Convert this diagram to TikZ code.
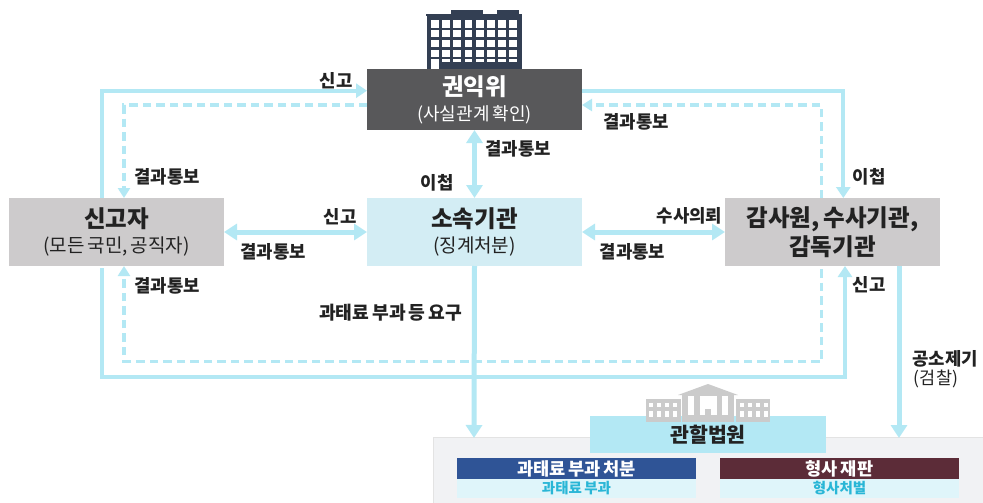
\documentclass[tikz,border=0pt]{standalone}
\usepackage{fontspec}
\setmainfont{Noto Sans CJK KR}[WordSpace=0.7]
\usetikzlibrary{arrows.meta}
\definecolor{flow}{HTML}{B3E8F4}
\definecolor{dark}{HTML}{58585A}
\definecolor{greybox}{HTML}{CDCBCC}
\definecolor{pale}{HTML}{D3EDF4}
\definecolor{bld}{HTML}{333F53}
\definecolor{ink}{HTML}{222222}
\definecolor{court}{HTML}{CBCBCB}
\definecolor{panelfill}{HTML}{F1F2F4}
\definecolor{panelline}{HTML}{E3E3E3}
\definecolor{navy}{HTML}{2F5496}
\definecolor{wine}{HTML}{5C2C38}
\definecolor{rowfill}{HTML}{DFF5FA}
\definecolor{rowtext}{HTML}{29B6D6}
\newcommand{\ttlfont}{\fontsize{23.5}{26}\selectfont\bfseries}
\newcommand{\subfont}{\fontsize{18}{20}\selectfont}
\newcommand{\subbig}{\fontsize{19}{20}\selectfont}
\tikzset{
  every node/.style={inner sep=0pt,outer sep=0pt},
  box/.style={anchor=north west,minimum height=68pt,minimum width=215pt,align=center,font=\fontsize{18}{25}\selectfont},
  solidflow/.style={draw=flow,line width=4pt,-{Triangle[length=11pt,width=14pt]}},
  thickflow/.style={draw=flow,line width=5pt,-{Triangle[length=13pt,width=16pt]}},
  bothflow/.style={draw=flow,line width=5pt,{Triangle[length=13pt,width=16pt]}-{Triangle[length=13pt,width=16pt]}},
  dashflow/.style={draw=flow,line width=3.2pt,dash pattern=on 8.5pt off 5pt,-{Triangle[length=10pt,width=12pt]}},
  lab/.style={font=\fontsize{17.8}{20}\selectfont\bfseries,text=ink},
  sublab/.style={font=\fontsize{17.5}{20}\selectfont,text=ink},
  headrow/.style={anchor=north west,minimum width=239pt,minimum height=21pt,text=white,font=\fontsize{17.6}{20}\selectfont\bfseries},
  subrow/.style={anchor=north west,minimum width=239pt,minimum height=18.5pt,fill=rowfill,text=rowtext,font=\fontsize{14.5}{17}\selectfont\bfseries},
}
\begin{document}
\begin{tikzpicture}[x=1pt,y=-1pt]
\useasboundingbox[fill=white] (0,0) rectangle (983,503);
% building
\fill[bld] (426,14) rectangle (522,16.5);
\fill[bld] (451,10) rectangle (483,14);
\fill[bld] (497,10) rectangle (519,14);
\fill[bld] (427,16) rectangle (522,71);
\foreach \c in {0,...,7}{
  \foreach \r in {0,...,3}{
    \fill[white] ({431+11.2*\c},{20.3+9.8*\r}) rectangle ++(7.7,7.3);
  }
  \fill[white] ({431+11.2*\c},59.3) rectangle ++(7.7,2.7);
}
\fill[white] (431,59) rectangle (439,71);
% panel
\fill[fill=panelfill,draw=panelline,line width=1pt] (433.5,437.5) rectangle (990,510);
% court
\node[anchor=north west,minimum width=236pt,minimum height=37pt,fill=flow,font=\fontsize{20.5}{24}\selectfont\bfseries,text=ink] (court) at (590,416) {관할법원};
\fill[court] (646,399) rectangle (681,422);
\fill[court] (736,399) rectangle (770,422);
\fill[court] (678,395) -- (708,384) -- (738,395) -- cycle;
\fill[court] (682,395) rectangle (734,422);
\foreach \c in {0,1,2,3}{\foreach \r in {0,1}{
  \fill[white] ({649+8*\c},{403+7.5*\r}) rectangle ++(4.3,{4+2*\r});
  \fill[white] ({739.5+8*\c},{403+7.5*\r}) rectangle ++(4.3,{4+2*\r});}}
\fill[white] (688,396) rectangle (694,415);
\fill[white] (722,396) rectangle (728,415);
\fill[white] (700,396) rectangle (717,415);
\fill[court] (705,409) rectangle (711,415);
% boxes
\node[box,fill=dark,minimum height=61pt,text=white] (kw) at (367,69) {{\ttlfont 권익위}\\{\subfont (사실관계 확인)}};
\node[box,fill=greybox,text=ink] (sin) at (9,198) {{\ttlfont 신고자}\\{\subbig (모든 국민, 공직자)}};
\node[box,fill=pale,text=ink] (so) at (367,198) {{\ttlfont 소속기관}\\{\subbig (징계처분)}};
\node[box,fill=greybox,text=ink,font=\fontsize{23.5}{29}\selectfont\bfseries] (gam) at (725,198) {감사원, 수사기관,\\감독기관};
% results
\node[headrow,fill=navy] (fine) at (457,458) {과태료 부과 처분};
\node[subrow] (fineb) at (457,479.2) {과태료 부과};
\node[headrow,fill=wine] (trial) at (720,458) {형사 재판};
\node[subrow] (trialb) at (720,479.2) {형사처벌};
% named ends
\coordinate (panelA) at (474,438);
\coordinate (panelB) at (899,438);
\coordinate (lowS) at (474,376.5);
\coordinate (lowD) at (474,361.5);
% connectors
\draw[solidflow] ([xshift=-14.8pt]sin.north) |- ([yshift=8.8pt]kw.west);
\draw[dashflow] ([yshift=-5.5pt]kw.west) -| ([xshift=7.5pt]sin.north);
\draw[solidflow] ([yshift=8.8pt]kw.east) -| ([xshift=10.8pt]gam.north);
\draw[dashflow] ([xshift=-10.8pt]gam.north) |- ([yshift=-5.5pt]kw.east);
\draw[bothflow] (kw.south) -- (so.north);
\draw[bothflow] (sin.east) -- (so.west);
\draw[bothflow] (so.east) -- (gam.west);
\draw[solidflow] ([xshift=-14.8pt,yshift=-2pt]sin.south) |- (lowS) -| ([xshift=12.5pt]gam.south);
\draw[dashflow] ([xshift=-10.8pt,yshift=-3pt]gam.south) |- (lowD) -| ([xshift=7.5pt]sin.south);
\draw[thickflow] (so.south) -- (panelA);
\draw[thickflow] ([xshift=66.5pt]gam.south) -- (panelB);
% labels
\node[lab] (l1) at (336,81) {신고};
\node[lab] (l2) at (167,177) {결과통보};
\node[lab] (l3) at (518,149) {결과통보};
\node[lab] (l4) at (437,183) {이첩};
\node[lab] (l5) at (636,121.5) {결과통보};
\node[lab] (l6) at (869,177) {이첩};
\node[lab] (l7) at (340,216.5) {신고};
\node[lab] (l8) at (273,252) {결과통보};
\node[lab] (l9) at (689.5,216) {수사의뢰};
\node[lab] (l10) at (632.5,252) {결과통보};
\node[lab] (l11) at (167,286) {결과통보};
\node[lab] (l12) at (869,285) {신고};
\node[lab,font=\fontsize{18.2}{20}\selectfont\bfseries] (l13) at (390.5,313) {과태료 부과 등 요구};
\node[lab] (l14) at (945,358.5) {공소제기};
\node[sublab] (l15) at (936,378.5) {(검찰)};
\end{tikzpicture}
\end{document}
